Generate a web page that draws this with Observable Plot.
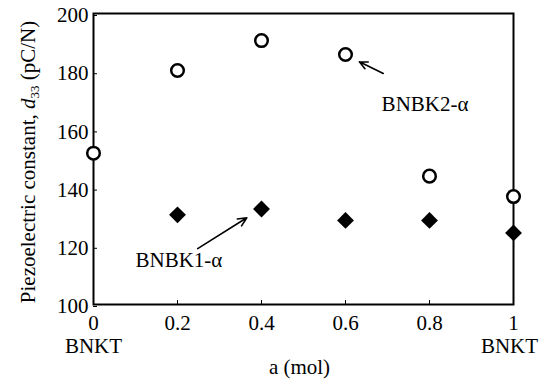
<!DOCTYPE html>
<html>
<head>
<meta charset="utf-8">
<script src="https://cdn.jsdelivr.net/npm/d3@7"></script>
<script src="https://cdn.jsdelivr.net/npm/@observablehq/plot@0.6"></script>
<style>
  body { margin: 0; background: #fff; }
  #chart svg { display: block; }
  #chart svg text { font-family: "Liberation Serif", "Times New Roman", serif; }
</style>
</head>
<body>
<div id="chart"></div>
<script>
// composition a (mol)
const aValues = [0, 0.2, 0.4, 0.6, 0.8, 1.0];
// BNBK2-α (open circles), d33 in pC/N
const bnbk2 = [152, 180.4, 190.7, 185.9, 144.1, 137.1];
// BNBK1-α (filled diamonds), at a = 0.2 ... 1
const aValues1 = [0.2, 0.4, 0.6, 0.8, 1.0];
const bnbk1 = [130.8, 132.8, 128.9, 128.9, 124.6];

const xTicks = [0, 0.2, 0.4, 0.6, 0.8, 1];
const xTickLabels = ["0", "0.2", "0.4", "0.6", "0.8", "1"];
const yTicks = [100, 120, 140, 160, 180, 200];
const endLabelsLeft = [{a: 0, t: "BNKT"}];
const endLabelsRight = [{a: 1, t: "BNKT"}];

// annotations (data coordinates)
const notes = [
  {x: 0.686, y: 168.7, t: "BNBK2-α"},
  {x: 0.100, y: 115.1, t: "BNBK1-α"}
];
const arrows = [
  {x1: 0.690, y1: 179.4, x2: 0.633, y2: 183.4},
  {x1: 0.248, y1: 119.2, x2: 0.365, y2: 129.8}
];

const d2 = aValues.map((a, i) => ({a, v: bnbk2[i]}));
const d1 = aValues1.map((a, i) => ({a, v: bnbk1[i]}));

const FONT = "'Liberation Serif', 'Times New Roman', serif";
const FS = 21;

const chart = Plot.plot({
  width: 539,
  height: 380,
  marginLeft: 93,
  marginRight: 26,
  marginTop: 13,
  marginBottom: 76,
  x: {domain: [0, 1]},
  y: {domain: [100, 200]},
  marks: [
    Plot.axisX(xTicks, {tickSize: -4, tickFormat: (d, i) => xTickLabels[i], tickPadding: 15, label: null, fontSize: FS}),
    Plot.axisY(yTicks, {tickSize: -4, tickPadding: 9, label: null, fontSize: FS, dy: 2}),
    Plot.frame({stroke: "#000", strokeWidth: 2}),
    Plot.text(endLabelsLeft, {x: "a", text: "t", frameAnchor: "bottom", lineAnchor: "top", dy: 34, fontSize: FS}),
    Plot.text(endLabelsRight, {x: "a", text: "t", frameAnchor: "bottom", lineAnchor: "top", dy: 34, dx: -4, fontSize: FS}),
    Plot.text(["a (mol)"], {text: d => d, frameAnchor: "bottom", lineAnchor: "middle", dy: 63, dx: -4, fontSize: FS}),
    Plot.arrow(arrows, {x1: "x1", y1: "y1", x2: "x2", y2: "y2", stroke: "#000", strokeWidth: 1.6, headLength: 9, headAngle: 50}),
    Plot.text(notes, {x: "x", y: "y", text: "t", textAnchor: "start", fontSize: FS}),
    Plot.dot(d2, {x: "a", y: "v", r: 6.3, symbol: "circle", stroke: "#000", strokeWidth: 2.5, fill: "#fff"}),
    Plot.dot(d1, {x: "a", y: "v", r: 7.6, symbol: d3.symbolDiamond2, fill: "#000", stroke: "none"})
  ]
});

document.getElementById("chart").appendChild(chart);

const svg = d3.select(chart);
svg.attr("font-family", FONT).style("font-family", FONT);
svg.selectAll("text").style("font-family", FONT).style("fill", "#000");

// Rotated y-axis title with italic d and subscript 33
const t = svg.append("text")
  .attr("transform", "translate(35,162) rotate(-90)")
  .attr("text-anchor", "middle")
  .style("font-family", FONT)
  .attr("font-size", FS)
  .attr("fill", "#000");
t.append("tspan").text("Piezoelectric constant, ");
t.append("tspan").attr("font-style", "italic").text("d");
t.append("tspan").attr("font-size", 13).attr("dy", 4).text("33");
t.append("tspan").attr("dy", -4).text(" (pC/N)");
</script>
</body>
</html>
